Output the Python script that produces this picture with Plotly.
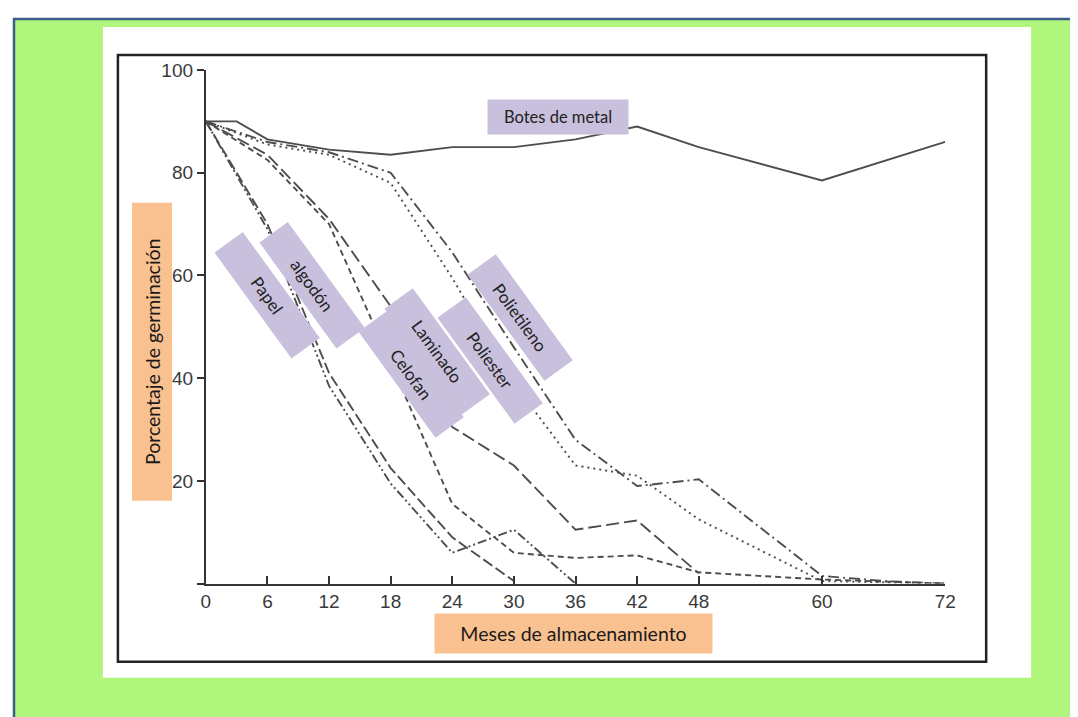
import plotly.graph_objects as go

# ---------------- data ----------------
meses_ticks = [0, 6, 12, 18, 24, 30, 36, 42, 48, 60, 72]
germ_ticks = [20, 40, 60, 80, 100]

metal_x = [0, 3, 6, 12, 18, 24, 30, 36, 42, 48, 60, 72]
metal_y = [90, 90, 86.5, 84.5, 83.5, 85, 85, 86.5, 89, 85, 78.5, 86]

polietileno_x = [0, 6, 12, 18, 24, 30, 36, 42, 48, 60, 66, 72]
polietileno_y = [90, 86, 84, 80, 64.5, 46, 28, 19, 20.3, 1.5, 0.5, 0]

poliester_x = [0, 6, 12, 18, 24, 30, 36, 42, 48, 60, 72]
poliester_y = [90, 85.5, 83.5, 78, 59.5, 39, 23, 21, 12.5, 0.5, 0]

laminado_x = [0, 6, 12, 18, 24, 30, 36, 42, 48]
laminado_y = [90, 83.5, 71, 54, 30.5, 23, 10.5, 12.3, 2]

celofan_x = [0, 6, 12, 18, 24, 30, 36, 42, 48, 60, 72]
celofan_y = [90, 82.5, 70, 43, 15.5, 6, 5, 5.5, 2.2, 0.8, 0]

papel_x = [0, 6, 12, 18, 24, 30, 36]
papel_y = [90, 69, 38.5, 19.5, 6, 10.5, 0]

algodon_x = [0, 6, 12, 18, 24, 30]
algodon_y = [90, 70, 41, 22.5, 9, 0.5]

# figure geometry and calibration from reference pixel coords
FW, FH = 1078, 717
SX, SY = 0.986, 0.985
BX, BY = 12.0, 18.0


def px(x):
    return ((x - BX) / SX) / FW


def py(y):
    return 1 - ((y - BY) / SY) / FH


LINE = "#4d4d4d"

fig = go.Figure()


def add(xs, ys, dash):
    fig.add_trace(go.Scatter(x=xs, y=ys, mode="lines",
                             line=dict(color=LINE, width=1.9, dash=dash),
                             hoverinfo="skip", showlegend=False))


add(metal_x, metal_y, "solid")
add(polietileno_x, polietileno_y, "11px,4px,2px,4px")
add(poliester_x, poliester_y, "2px,4px")
add(laminado_x, laminado_y, "13px,5px")
add(celofan_x, celofan_y, "6px,4px")
add(papel_x, papel_y, "9px,3px,2px,3px,2px,3px")
add(algodon_x, algodon_y, "11px,4px")

shapes = [
    # green background with blue border
    dict(type="rect", xref="paper", yref="paper", x0=px(13), x1=px(1074), y0=py(730), y1=py(19),
         line=dict(color="#3d5e8c", width=2.5), fillcolor="#b1f67c", layer="below"),
    # white panel
    dict(type="rect", xref="paper", yref="paper", x0=px(102), x1=px(1031), y0=py(677), y1=py(27),
         line=dict(width=0), fillcolor="white", layer="below"),
    # black frame
    dict(type="rect", xref="paper", yref="paper", x0=px(117), x1=px(986), y0=py(661), y1=py(55),
         line=dict(color="#222222", width=2.5), fillcolor="rgba(0,0,0,0)", layer="below"),
]

LAV = "#c8c0dc"
ORANGE = "#f9c18f"
LFONT = "Lato"

annotations = []
box_labels = [
    ("Papel", 266, 295),
    ("algodón", 311, 285),
    ("Celofan", 410, 374),
    ("Laminado", 436, 351),
    ("Poliester", 489, 360),
    ("Polietileno", 519, 317),
]
for txt, cx, cy in box_labels:
    annotations.append(dict(text=txt, xref="paper", yref="paper", x=px(cx), y=py(cy),
                            xanchor="center", yanchor="middle", showarrow=False,
                            textangle=54, width=130, height=34, bgcolor=LAV, borderpad=0,
                            font=dict(family=LFONT, size=17, color="#222222")))

annotations.append(dict(text="Botes de metal", xref="paper", yref="paper", x=px(557), y=py(117),
                        xanchor="center", yanchor="middle", showarrow=False,
                        width=140, height=34, bgcolor=LAV, borderpad=0,
                        font=dict(family=LFONT, size=16.5, color="#222222")))

annotations.append(dict(text="Porcentaje de germinación", xref="paper", yref="paper",
                        x=px(151), y=py(351), xanchor="center", yanchor="middle", showarrow=False,
                        textangle=-90, width=297, height=39, bgcolor=ORANGE, borderpad=0,
                        font=dict(family=LFONT, size=19.5, color="#1a1a1a")))

annotations.append(dict(text="Meses de almacenamiento", xref="paper", yref="paper",
                        x=px(573), y=py(633), xanchor="center", yanchor="middle", showarrow=False,
                        width=277, height=39, bgcolor=ORANGE, borderpad=0,
                        font=dict(family=LFONT, size=19.5, color="#1a1a1a")))

fig.update_layout(
    width=FW, height=FH,
    margin=dict(l=0, r=0, t=0, b=0),
    paper_bgcolor="white",
    plot_bgcolor="rgba(0,0,0,0)",
    shapes=shapes,
    annotations=annotations,
    xaxis=dict(domain=[px(205), px(945)], range=[0, 72], tickvals=meses_ticks,
               showgrid=False, zeroline=False, showline=True, linecolor="#333333", linewidth=2,
               ticks="inside", ticklen=8, tickwidth=1.5, tickcolor="#333333",
               tickfont=dict(family="Liberation Sans", size=19, color="#3a3a3a")),
    yaxis=dict(domain=[py(583), py(70)], range=[0, 100], tickvals=[0] + germ_ticks,
               ticktext=[""] + [str(v) for v in germ_ticks],
               showgrid=False, zeroline=False, showline=True, linecolor="#333333", linewidth=2,
               ticks="outside", ticklen=7, tickwidth=1.5, tickcolor="#333333",
               tickfont=dict(family="Liberation Sans", size=19, color="#3a3a3a")),
)

fig.write_html("out.html")
